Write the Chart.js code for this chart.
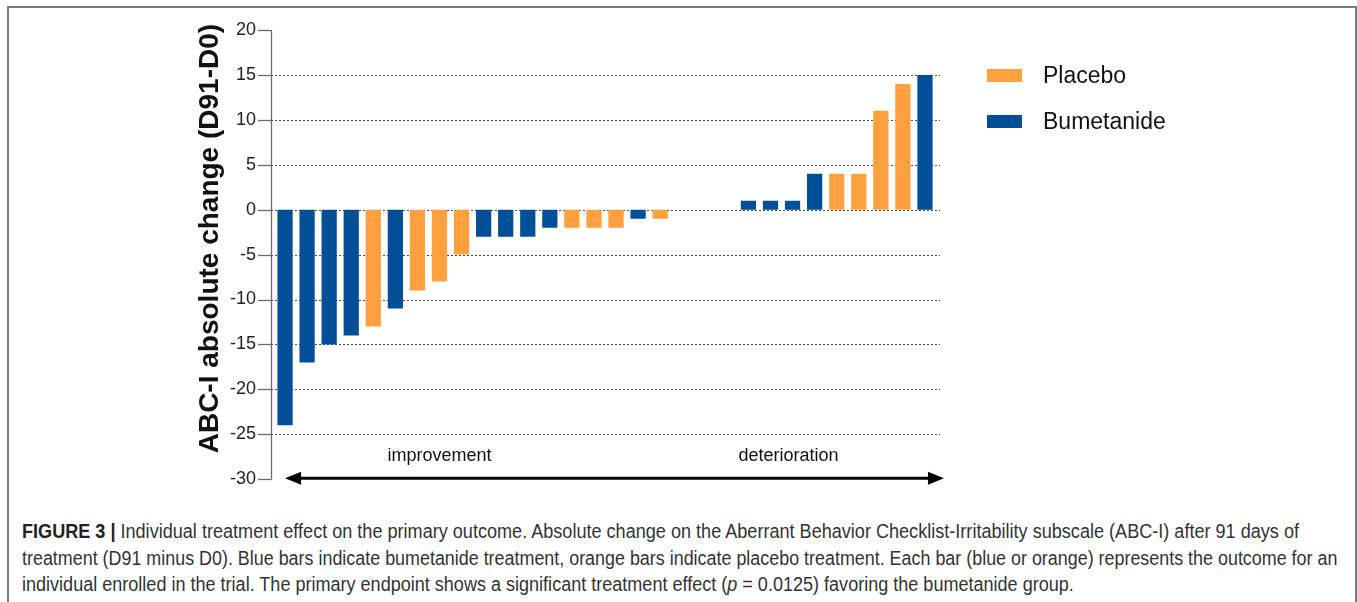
<!DOCTYPE html>
<html>
<head>
<meta charset="utf-8">
<script src="https://cdn.jsdelivr.net/npm/chart.js@4.4.1/dist/chart.umd.min.js"></script>
<style>
  html, body { margin: 0; padding: 0; background: #fff; }
  body { width: 1357px; height: 602px; position: relative; overflow: hidden; }
  #frame { position: absolute; left: 7px; top: 6px; width: 1346px; height: 700px;
           border: 2px solid #7a7a7a; border-bottom: none; }
  #wrap { position: absolute; left: 0; top: 0; width: 1357px; height: 508px; }
  #caption { position: absolute; left: 22px; top: 518px;
             font-family: "Liberation Sans", Arial, sans-serif;
             font-size: 20px; line-height: 26.5px; color: #333; white-space: nowrap; }
  #caption div { transform-origin: 0 0; }
  #caption .l1 { transform: scaleX(0.904); }
  #caption .l2 { transform: scaleX(0.895); }
  #caption .l3 { transform: scaleX(0.902); }
  #caption b { color: #222; }
</style>
</head>
<body>
<div id="frame"></div>
<div id="wrap"><canvas id="chart" width="1357" height="508"></canvas></div>
<div id="caption">
  <div class="l1"><b>FIGURE 3 |</b> Individual treatment effect on the primary outcome. Absolute change on the Aberrant Behavior Checklist-Irritability subscale (ABC-I) after 91 days of</div>
  <div class="l2">treatment (D91 minus D0). Blue bars indicate bumetanide treatment, orange bars indicate placebo treatment. Each bar (blue or orange) represents the outcome for an</div>
  <div class="l3">individual enrolled in the trial. The primary endpoint shows a significant treatment effect (<i>p</i> = 0.0125) favoring the bumetanide group.</div>
</div>
<script>
// One bar per enrolled participant, sorted by change in ABC-I score (D91 - D0)
const participants = ['1','2','3','4','5','6','7','8','9','10','11','12','13','14','15',
                      '16','17','18','19','20','21','22','23','24','25','26','27','28','29','30'];
const abcChange = [-24, -17, -15, -14, -13, -11, -9, -8, -5, -3, -3, -3, -2, -2, -2,
                   -2, -1, -1, 0, 0, 0, 1, 1, 1, 4, 4, 4, 11, 14, 15];
// treatment arm: 'B' bumetanide, 'P' placebo, null where no bar is visible
const arm = ['B','B','B','B','P','B','P','P','P','B','B','B','B','P','P',
             'P','B','P', null, null, null,'B','B','B','B','P','P','P','P','B'];
const yTicks = [-30, -25, -20, -15, -10, -5, 0, 5, 10, 15, 20];
const directionLabels = ['improvement', 'deterioration'];
const axisTitle = 'ABC-I absolute change (D91-D0)';

const ORANGE = '#FFA03F';
const BLUE = '#004F98';
const FONT = '"Liberation Sans", Arial, sans-serif';

const placeboData = abcChange.map((v, i) => arm[i] === 'P' ? v : null);
const bumetanideData = abcChange.map((v, i) => arm[i] === 'B' ? v : null);

const decorations = {
  id: 'decorations',
  beforeDatasetsDraw(chart) {
    const { ctx, chartArea, scales: { y } } = chart;
    const axisX = chartArea.left - 3;
    const gridRight = chartArea.right + 4;
    ctx.save();
    // dotted grid lines
    ctx.strokeStyle = '#4a4a4a';
    ctx.lineWidth = 1;
    ctx.setLineDash([2, 2]);
    yTicks.forEach(v => {
      if (v === y.min || v === y.max) return;
      const py = Math.round(y.getPixelForValue(v)) + 0.5;
      ctx.beginPath();
      ctx.moveTo(axisX, py);
      ctx.lineTo(gridRight, py);
      ctx.stroke();
    });
    ctx.setLineDash([]);
    // axis line and tick marks
    ctx.strokeStyle = '#6a6a6a';
    ctx.lineWidth = 1.3;
    ctx.beginPath();
    ctx.moveTo(axisX + 0.5, y.getPixelForValue(y.max));
    ctx.lineTo(axisX + 0.5, y.getPixelForValue(y.min));
    ctx.stroke();
    yTicks.forEach(v => {
      const py = Math.round(y.getPixelForValue(v)) + 0.5;
      ctx.beginPath();
      ctx.moveTo(axisX - 13, py);
      ctx.lineTo(axisX + 0.5, py);
      ctx.stroke();
    });
    ctx.restore();
  },
  afterDraw(chart) {
    const { ctx, chartArea, scales: { x, y } } = chart;
    ctx.save();
    // double-headed arrow along the bottom of the plot
    const ay = y.getPixelForValue(y.min) - 1;
    const x0 = x.getPixelForValue(0);
    const x1 = x.getPixelForValue(participants.length - 1) + 19;
    const head = 16, half = 6.5;
    ctx.strokeStyle = '#000';
    ctx.fillStyle = '#000';
    ctx.lineWidth = 3;
    ctx.beginPath();
    ctx.moveTo(x0 + head - 2, ay);
    ctx.lineTo(x1 - head + 2, ay);
    ctx.stroke();
    ctx.beginPath();
    ctx.moveTo(x0, ay); ctx.lineTo(x0 + head, ay - half); ctx.lineTo(x0 + head, ay + half); ctx.closePath();
    ctx.fill();
    ctx.beginPath();
    ctx.moveTo(x1, ay); ctx.lineTo(x1 - head, ay - half); ctx.lineTo(x1 - head, ay + half); ctx.closePath();
    ctx.fill();

    // direction labels
    ctx.font = '18px ' + FONT;
    ctx.fillStyle = '#111';
    ctx.textAlign = 'center';
    ctx.textBaseline = 'middle';
    const ty = y.getPixelForValue(-27.4);
    ctx.fillText(directionLabels[0], x.getPixelForValue(7), ty);
    ctx.fillText(directionLabels[1], (x.getPixelForValue(22) + x.getPixelForValue(23)) / 2 + 7, ty);

    // rotated axis title
    ctx.save();
    ctx.translate(chartArea.left - 64, (chartArea.top + chartArea.bottom) / 2 - 16);
    ctx.rotate(-Math.PI / 2);
    ctx.font = 'bold 28px ' + FONT;
    ctx.fillStyle = '#111';
    ctx.fillText(axisTitle, 0, 0);
    ctx.restore();

    // legend
    const lx = chartArea.right + 51;
    chart.data.datasets.forEach((ds, i) => {
      const cy = 75.5 + i * 46;
      ctx.fillStyle = ds.backgroundColor;
      ctx.fillRect(lx, cy - 6.5, 35, 13);
      ctx.fillStyle = '#111';
      ctx.font = '23px ' + FONT;
      ctx.textAlign = 'left';
      ctx.textBaseline = 'middle';
      ctx.fillText(ds.label, lx + 56, cy + 1);
    });
    ctx.restore();
  }
};

new Chart(document.getElementById('chart'), {
  type: 'bar',
  data: {
    labels: participants,
    datasets: [
      { label: 'Placebo', data: placeboData, backgroundColor: ORANGE },
      { label: 'Bumetanide', data: bumetanideData, backgroundColor: BLUE }
    ]
  },
  options: {
    responsive: false,
    animation: false,
    layout: { padding: { left: 0, right: 421, top: 30, bottom: 14 } },
    datasets: { bar: { categoryPercentage: 1, barPercentage: 0.69, borderWidth: 0 } },
    plugins: { legend: { display: false }, tooltip: { enabled: false } },
    scales: {
      x: { stacked: true, display: false },
      y: {
        min: -30, max: 20,
        afterFit(scale) { scale.width = 274; },
        afterBuildTicks(scale) { scale.ticks = yTicks.map(v => ({ value: v })); },
        grid: { display: false, drawTicks: false },
        border: { display: false },
        ticks: { padding: 18, color: '#222', font: { family: FONT, size: 18 } }
      }
    }
  },
  plugins: [decorations]
});
</script>
</body>
</html>
